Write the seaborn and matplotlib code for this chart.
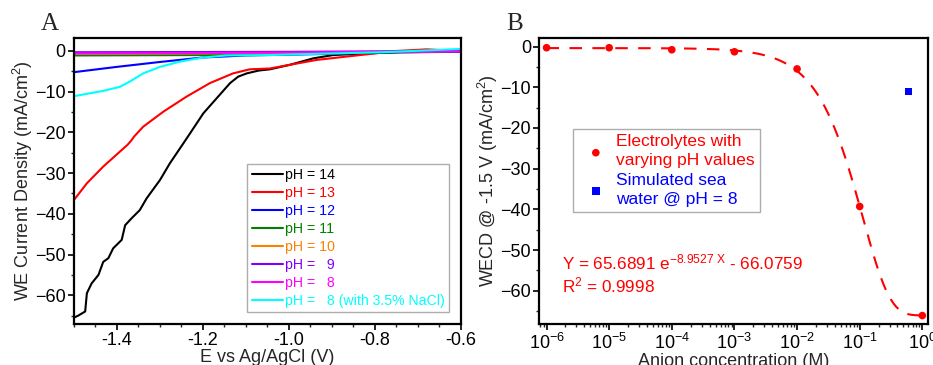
import numpy as np
import pandas as pd
import matplotlib
matplotlib.use("Agg")
import matplotlib.pyplot as plt
from matplotlib.ticker import MultipleLocator, LogLocator, NullFormatter
import seaborn as sns

# ---------------- Panel A data (LSV curves) ----------------
ph14_x = [-1.5, -1.49, -1.474, -1.47, -1.459, -1.443, -1.432, -1.42, -1.409, -1.389, -1.381,
          -1.366, -1.347, -1.331, -1.3, -1.277, -1.238, -1.199, -1.137, -1.118, -1.098,
          -1.07, -1.044, -0.998, -0.943, -0.897, -0.819, -0.75, -0.7, -0.6]
ph14_y = [-65.5, -65.0, -64.0, -59.5, -57.1, -55.0, -51.8, -50.9, -48.5, -46.4, -42.8,
          -41.1, -39.1, -36.2, -31.7, -27.6, -21.5, -15.3, -7.9, -6.3, -5.5,
          -4.8, -4.5, -3.4, -1.8, -1.0, -0.6, -0.3, 0.1, 0.0]
ph13_x = [-1.5, -1.47, -1.432, -1.393, -1.375, -1.366, -1.36, -1.339, -1.292, -1.238, -1.184,
          -1.13, -1.091, -1.044, -0.998, -0.936, -0.86, -0.8, -0.75, -0.68, -0.6]
ph13_y = [-36.6, -32.5, -28.4, -24.7, -23.0, -21.9, -21.0, -18.6, -14.9, -11.2, -7.9,
          -5.5, -4.5, -4.3, -3.4, -2.2, -1.3, -0.6, 0.0, 0.4, 0.0]
ph12_x = [-1.5, -1.4, -1.3, -1.2, -1.1, -1.0, -0.9, -0.8, -0.7, -0.6]
ph12_y = [-5.2, -3.9, -2.7, -1.6, -1.1, -0.9, -0.7, -0.4, -0.3, -0.2]
ph11_x = [-1.5, -1.2, -1.0, -0.8, -0.6]
ph11_y = [-1.1, -1.0, -0.8, -0.4, -0.1]
ph10_x = [-1.5, -1.2, -1.0, -0.8, -0.6]
ph10_y = [-0.7, -0.6, -0.45, -0.2, 0.0]
ph9_x = [-1.5, -1.2, -1.0, -0.8, -0.6]
ph9_y = [-0.3, -0.25, -0.2, -0.1, 0.0]
ph8_x = [-1.5, -1.2, -1.0, -0.8, -0.6]
ph8_y = [-0.6, -0.5, -0.4, -0.2, -0.1]
nacl_x = [-1.5, -1.432, -1.393, -1.37, -1.339, -1.3, -1.253, -1.199, -1.145, -1.044,
          -0.975, -0.78, -0.6]
nacl_y = [-11.1, -9.8, -8.8, -7.5, -5.5, -3.9, -2.6, -1.6, -1.1, -1.0,
          -0.8, -0.3, 0.5]

labels_a = ["pH = 14", "pH = 13", "pH = 12", "pH = 11", "pH = 10",
            "pH =   9", "pH =   8", "pH =   8 (with 3.5% NaCl)"]
colors_a = ["#000000", "#ff0000", "#0000ff", "#008000", "#ff8000",
            "#8000ff", "#ff00ff", "#00ffff"]

# ---------------- Panel B data ----------------
conc = [1e-6, 1e-5, 1e-4, 1e-3, 1e-2, 1e-1, 1.0]
wecd = [-0.3, -0.3, -0.8, -1.3, -5.5, -39.3, -66.1]
sea_conc = [0.6]
sea_wecd = [-11.1]
FIT_A, FIT_B, FIT_C = 65.6891, -8.9527, -66.0759

# ---------------- Style ----------------
sns.set_style("ticks")
plt.rcParams["font.family"] = ["Liberation Sans", "DejaVu Sans"]
plt.rcParams["mathtext.fontset"] = "custom"
plt.rcParams["mathtext.rm"] = "Liberation Sans"
plt.rcParams["mathtext.it"] = "Liberation Sans:italic"
plt.rcParams["mathtext.default"] = "regular"

fig = plt.figure(figsize=(9.33, 3.65), dpi=100)
axA = fig.add_axes([0.0793, 0.112, 0.4147, 0.784])
axB = fig.add_axes([0.578, 0.112, 0.4166, 0.784])

# ---- Panel A ----
xs_list = [ph14_x, ph13_x, ph12_x, ph11_x, ph10_x, ph9_x, ph8_x, nacl_x]
ys_list = [ph14_y, ph13_y, ph12_y, ph11_y, ph10_y, ph9_y, ph8_y, nacl_y]
frames = []
for lab, xs, ys in zip(labels_a, xs_list, ys_list):
    frames.append(pd.DataFrame({"E": xs, "J": ys, "series": lab}))
dfA = pd.concat(frames, ignore_index=True)
sns.lineplot(data=dfA, x="E", y="J", hue="series", hue_order=labels_a,
             palette=dict(zip(labels_a, colors_a)), sort=False, estimator=None,
             linewidth=1.5, ax=axA)
axA.set_xlim(-1.5, -0.6)
axA.set_ylim(-67.1, 3.2)
axA.xaxis.set_major_locator(MultipleLocator(0.2))
axA.xaxis.set_minor_locator(MultipleLocator(0.05))
axA.yaxis.set_major_locator(MultipleLocator(10))
axA.yaxis.set_minor_locator(MultipleLocator(5))
axA.set_xticklabels([f"{t:.1f}" for t in axA.get_xticks()])
axA.set_xlabel("E vs Ag/AgCl (V)", fontsize=13, labelpad=0)
axA.set_ylabel("WE Current Density (mA/cm$^2$)", fontsize=13, labelpad=0)
legA = axA.legend(loc="lower right", bbox_to_anchor=(0.969, 0.042), fontsize=10.2,
                  frameon=True, fancybox=False, edgecolor="#999999",
                  handlelength=2.2, handletextpad=0.15, labelspacing=0.28,
                  borderpad=0.3, labelcolor="linecolor", borderaxespad=0)
legA.get_frame().set_linewidth(1.0)

# ---- Panel B ----
dfFit = pd.DataFrame({"c": np.logspace(-6, 0, 300)})
dfFit["y"] = FIT_A * np.exp(FIT_B * dfFit["c"]) + FIT_C
sns.lineplot(data=dfFit, x="c", y="y", color="#ff0000", linestyle=(0, (6, 5)),
             linewidth=1.5, ax=axB, legend=False)
dfB = pd.DataFrame({"c": conc, "y": wecd})
sns.scatterplot(data=dfB, x="c", y="y", color="#ff0000", marker="o", s=30,
                edgecolor="none", ax=axB, zorder=3,
                label="Electrolytes with\nvarying pH values")
dfS = pd.DataFrame({"c": sea_conc, "y": sea_wecd})
sns.scatterplot(data=dfS, x="c", y="y", color="#0000ff", marker="s", s=30,
                edgecolor="none", ax=axB, zorder=3,
                label="Simulated sea\nwater @ pH = 8")
axB.set_xscale("log")
axB.set_xlim(10 ** -6.116, 10 ** 0.09)
axB.set_ylim(-68.2, 2.1)
axB.xaxis.set_major_locator(LogLocator(base=10, numticks=20))
axB.xaxis.set_minor_locator(LogLocator(base=10, subs=np.arange(2, 10), numticks=20))
axB.xaxis.set_minor_formatter(NullFormatter())
axB.yaxis.set_major_locator(MultipleLocator(10))
axB.yaxis.set_minor_locator(MultipleLocator(5))
axB.set_xlabel("Anion concentration (M)", fontsize=13, labelpad=0)
axB.set_ylabel("WECD @ -1.5 V (mA/cm$^2$)", fontsize=13, labelpad=0)
legB = axB.legend(loc="upper left", bbox_to_anchor=(0.0874, 0.682), fontsize=12.5,
                  frameon=True, fancybox=False, edgecolor="#999999",
                  handletextpad=0.15, labelspacing=0.25, borderpad=0.3,
                  markerscale=1.0, labelcolor=["#ff0000", "#0000ff"],
                  borderaxespad=0)
legB.get_frame().set_linewidth(1.0)
for t in legB.get_texts():
    t.set_linespacing(1.35)
axB.text(0.059, 0.217, "Y = 65.6891 e$^{-8.9527\\ X}$ - 66.0759", transform=axB.transAxes,
         color="#ff0000", fontsize=12.3, va="center", ha="left")
axB.text(0.059, 0.136, "R$^2$ = 0.9998", transform=axB.transAxes,
         color="#ff0000", fontsize=12.3, va="center", ha="left")

for ax in (axA, axB):
    for sp in ax.spines.values():
        sp.set_visible(True)
        sp.set_linewidth(1.6)
        sp.set_color("black")
    ax.tick_params(which="major", direction="out", length=4, width=1.2,
                   labelsize=13, colors="black", pad=2)
    ax.tick_params(which="minor", direction="out", length=2.5, width=1.0)
    ax.tick_params(top=False, right=False)

fig.text(50 / 933, 1 - 24 / 365, "A", fontsize=18, family="Liberation Serif",
         ha="center", va="center")
fig.text(515 / 933, 1 - 24 / 365, "B", fontsize=18, family="Liberation Serif",
         ha="center", va="center")

fig.savefig("out.png", dpi=100, facecolor="white")
